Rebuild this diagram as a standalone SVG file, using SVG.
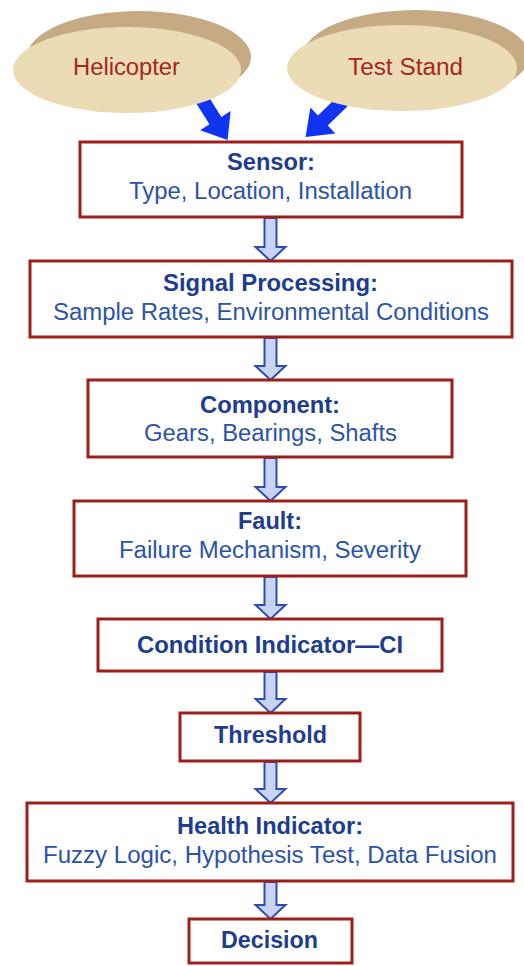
<svg xmlns="http://www.w3.org/2000/svg" width="524" height="966" viewBox="0 0 524 966">
<style>
.box{fill:#ffffff;stroke:#9e1f1a;stroke-width:3}
.shadow{fill:#c6aa84}
.oval{fill:#ecdcb5}
.otext{font-family:"Liberation Sans",Arial,sans-serif;font-size:23.5px;fill:#a3281e;text-anchor:middle}
.h{font-family:"Liberation Sans",Arial,sans-serif;font-size:23px;font-weight:bold;fill:#1e3d8e;text-anchor:middle}
.t{font-family:"Liberation Sans",Arial,sans-serif;font-size:23px;fill:#2b53a8;text-anchor:middle}
.flow{fill:#c9d3f3;stroke:#2a4db0;stroke-width:2;stroke-linejoin:miter}
.blue{fill:#1034f0}
</style>
<rect width="524" height="966" fill="#ffffff"/>
<g id="connectors">
  <polygon class="blue" transform="translate(200,96) rotate(-32)" points="-7,0 7,0 7,29 18,29 0,52 -18,29 -7,29"/>
  <polygon class="blue" transform="translate(343,101) rotate(46)" points="-7,0 7,0 7,28 18,28 0,52 -18,28 -7,28"/>
  <path class="flow" d="M264.5,218 H276.5 V247 H285.5 L270.5,261 L255.5,247 H264.5 Z"/>
  <path class="flow" d="M264.5,338 H276.5 V366 H285.5 L270.5,380 L255.5,366 H264.5 Z"/>
  <path class="flow" d="M264.5,458 H276.5 V487 H285.5 L270.5,501 L255.5,487 H264.5 Z"/>
  <path class="flow" d="M264.5,577 H276.5 V605 H285.5 L270.5,619 L255.5,605 H264.5 Z"/>
  <path class="flow" d="M264.5,672 H276.5 V699 H285.5 L270.5,713 L255.5,699 H264.5 Z"/>
  <path class="flow" d="M264.5,762 H276.5 V789 H285.5 L270.5,803 L255.5,789 H264.5 Z"/>
  <path class="flow" d="M264.5,882 H276.5 V905 H285.5 L270.5,919 L255.5,905 H264.5 Z"/>
</g>
<g id="helicopter">
  <ellipse class="shadow" cx="139" cy="57" rx="112" ry="46"/>
  <ellipse class="oval" cx="127" cy="70" rx="114" ry="43"/>
  <text class="otext" x="126.5" y="75" textLength="107" lengthAdjust="spacingAndGlyphs">Helicopter</text>
</g>
<g id="test-stand">
  <ellipse class="shadow" cx="416" cy="56" rx="113" ry="46"/>
  <ellipse class="oval" cx="402" cy="68" rx="115" ry="43"/>
  <text class="otext" x="405.5" y="75" textLength="115" lengthAdjust="spacingAndGlyphs">Test Stand</text>
</g>
<g id="sensor">
  <rect class="box" x="80" y="142" width="382" height="75"/>
  <text class="h" x="271" y="170" textLength="88" lengthAdjust="spacingAndGlyphs">Sensor:</text>
  <text class="t" x="270.5" y="199" textLength="283" lengthAdjust="spacingAndGlyphs">Type, Location, Installation</text>
</g>
<g id="signal-processing">
  <rect class="box" x="30" y="261" width="482" height="76"/>
  <text class="h" x="270.5" y="291" textLength="215" lengthAdjust="spacingAndGlyphs">Signal Processing:</text>
  <text class="t" x="271" y="320" textLength="436" lengthAdjust="spacingAndGlyphs">Sample Rates, Environmental Conditions</text>
</g>
<g id="component">
  <rect class="box" x="88" y="380" width="364" height="77"/>
  <text class="h" x="270" y="413" textLength="140" lengthAdjust="spacingAndGlyphs">Component:</text>
  <text class="t" x="270.5" y="441" textLength="253" lengthAdjust="spacingAndGlyphs">Gears, Bearings, Shafts</text>
</g>
<g id="fault">
  <rect class="box" x="74" y="501" width="392" height="75"/>
  <text class="h" x="270" y="529" textLength="64" lengthAdjust="spacingAndGlyphs">Fault:</text>
  <text class="t" x="270" y="558" textLength="302" lengthAdjust="spacingAndGlyphs">Failure Mechanism, Severity</text>
</g>
<g id="condition-indicator">
  <rect class="box" x="98" y="619" width="344" height="52"/>
  <text class="h" x="270" y="653" textLength="266" lengthAdjust="spacingAndGlyphs">Condition Indicator—CI</text>
</g>
<g id="threshold">
  <rect class="box" x="180" y="713" width="180" height="48"/>
  <text class="h" x="270.5" y="743" textLength="113" lengthAdjust="spacingAndGlyphs">Threshold</text>
</g>
<g id="health-indicator">
  <rect class="box" x="27" y="803" width="486" height="78"/>
  <text class="h" x="270" y="834" textLength="186" lengthAdjust="spacingAndGlyphs">Health Indicator:</text>
  <text class="t" x="270" y="863" textLength="454" lengthAdjust="spacingAndGlyphs">Fuzzy Logic, Hypothesis Test, Data Fusion</text>
</g>
<g id="decision">
  <rect class="box" x="189" y="919" width="163" height="44"/>
  <text class="h" x="269.5" y="948" textLength="97" lengthAdjust="spacingAndGlyphs">Decision</text>
</g>
</svg>
